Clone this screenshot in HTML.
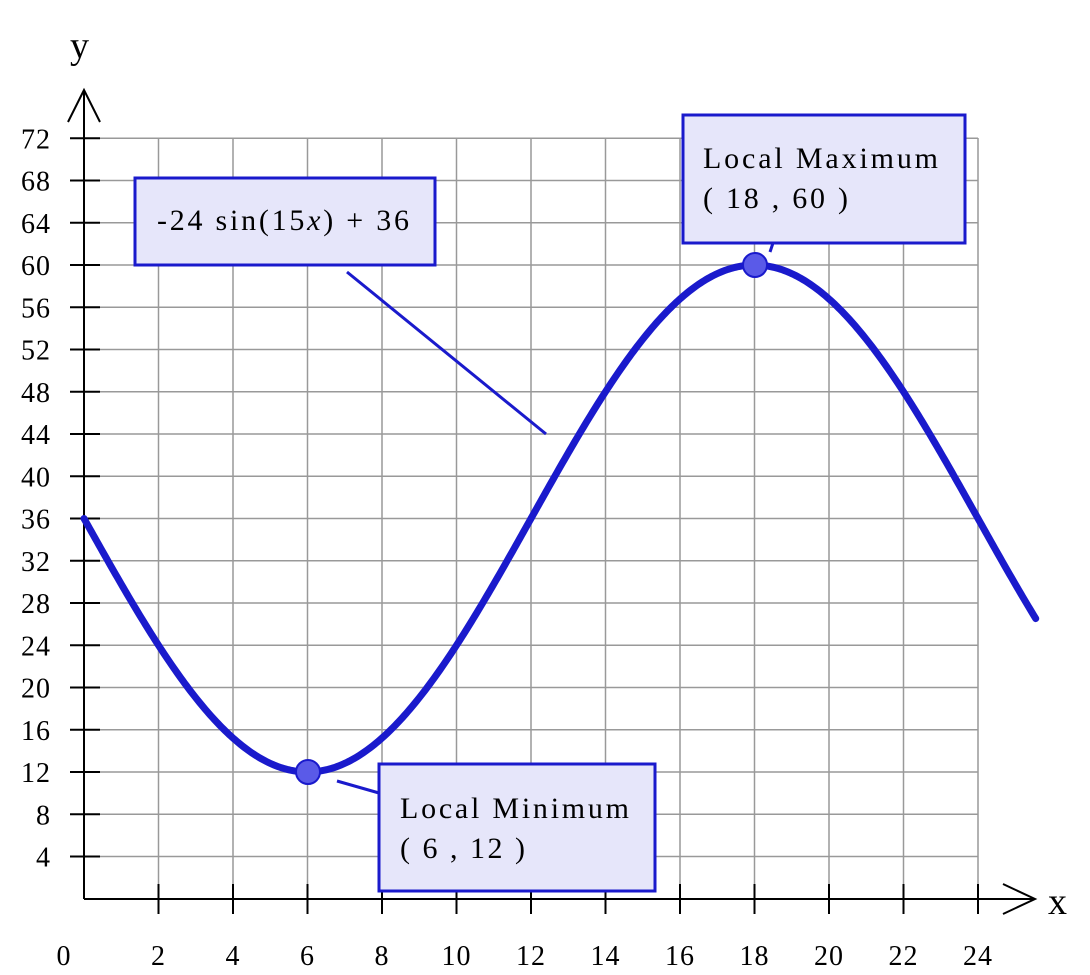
<!DOCTYPE html>
<html><head><meta charset="utf-8"><style>
html,body{margin:0;padding:0;background:#fff;}
svg{display:block;font-family:"Liberation Serif",serif;}
</style></head><body>
<svg id="s" width="1090" height="975" viewBox="0 0 1090 975" xmlns="http://www.w3.org/2000/svg">
<g id="grid" stroke="#999" stroke-width="1.5"></g>
<g id="axes" stroke="#000" stroke-width="2" fill="none">
<line x1="84" y1="899" x2="1035" y2="899"/>
<line x1="84" y1="899" x2="84" y2="90"/>
<polyline points="68,122 84,90 100,122"/>
<polyline points="1003,884 1035,899 1003,914"/>
</g>
<g id="labels" font-size="28" letter-spacing="1" fill="#000"></g>
<text x="70" y="58" font-size="38">y</text>
<text x="1048" y="914" font-size="38">x</text>
<path id="curve" fill="none" stroke="#1a1acc" stroke-width="7" stroke-linecap="round"/>
<line x1="347" y1="272" x2="546" y2="434" stroke="#1a1acc" stroke-width="3"/>
<line x1="337" y1="781" x2="379" y2="793" stroke="#1a1acc" stroke-width="3"/>
<line x1="773" y1="243" x2="770" y2="252" stroke="#1a1acc" stroke-width="3"/>
<circle cx="308" cy="772" r="12" fill="#5a5ae8" stroke="#1a1acc" stroke-width="2"/>
<circle cx="755" cy="265" r="12" fill="#5a5ae8" stroke="#1a1acc" stroke-width="2"/>
<rect x="135" y="178" width="300" height="87" fill="#e6e6fa" stroke="#1a1acc" stroke-width="3"/>
<text x="157" y="230" font-size="30" textLength="252" lengthAdjust="spacing">-24 sin(15<tspan font-style="italic">x</tspan>) + 36</text>
<rect x="683" y="115" width="282" height="128" fill="#e6e6fa" stroke="#1a1acc" stroke-width="3"/>
<text x="703" y="168" font-size="30" textLength="235" lengthAdjust="spacing">Local Maximum</text>
<text x="703" y="208" font-size="30" textLength="145" lengthAdjust="spacing">( 18 , 60 )</text>
<rect x="379" y="764" width="276" height="127" fill="#e6e6fa" stroke="#1a1acc" stroke-width="3"/>
<text x="400" y="818" font-size="30" textLength="229" lengthAdjust="spacing">Local Minimum</text>
<text x="400" y="858" font-size="30" textLength="125" lengthAdjust="spacing">( 6 , 12 )</text>
</svg>
<script>
var NS="http://www.w3.org/2000/svg";
function X(x){return 84+x*37.25;}
function Y(y){return 898.75-y*10.5625;}
var g=document.getElementById("grid"),lb=document.getElementById("labels"),ax=document.getElementById("axes");
function el(p,tag,a){var e=document.createElementNS(NS,tag);for(var k in a)e.setAttribute(k,a[k]);p.appendChild(e);return e;}
for(var i=2;i<=24;i+=2){el(g,"line",{x1:X(i),y1:138,x2:X(i),y2:899});
el(ax,"line",{x1:X(i),y1:884,x2:X(i),y2:914});
var t=el(lb,"text",{x:X(i),y:965,"text-anchor":"middle"});t.textContent=i;}
var t0=el(lb,"text",{x:64,y:965,"text-anchor":"middle"});t0.textContent="0";
for(var j=4;j<=72;j+=4){el(g,"line",{x1:84,y1:Y(j),x2:978,y2:Y(j)});
el(ax,"line",{x1:70,y1:Y(j),x2:100,y2:Y(j)});
var t=el(lb,"text",{x:51,y:Y(j)+10,"text-anchor":"end"});t.textContent=j;}
var d="";
for(var x=0;x<=25.6;x+=0.05){var y=-24*Math.sin(15*x*Math.PI/180)+36;d+=(d?"L":"M")+X(x).toFixed(2)+","+Y(y).toFixed(2);}
document.getElementById("curve").setAttribute("d",d);
</script>
</body></html>
